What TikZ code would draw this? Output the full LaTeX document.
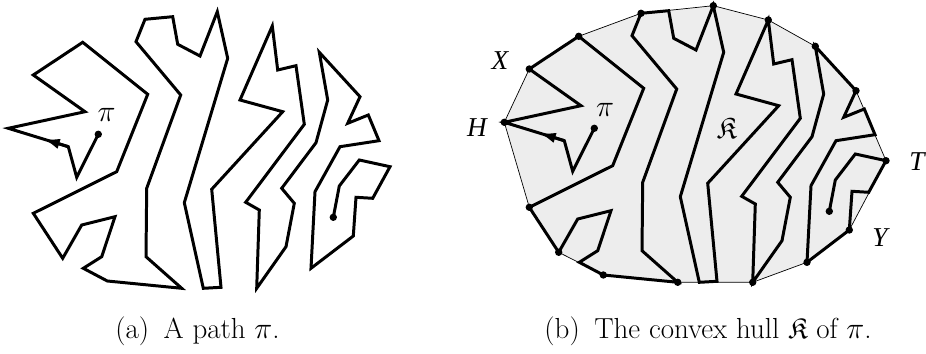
\documentclass[tikz,border=0pt]{standalone}
\usepackage{amssymb}
\usepackage{fontspec}
\newfontfamily\timesf{Liberation Serif}
\usetikzlibrary{arrows.meta,calc}
\def\pipath{(98.3,134.3) -- (76.7,177.3) -- (68.3,146.7) -- (8.3,128.3) -- (85,111.7) -- (33.3,75) -- (82.7,42.3) -- (147.7,94.3) -- (116.7,171.7) -- (33.3,213.3) -- (62.7,258.3) -- (81.7,225) -- (115,216.7) -- (101.7,256.7) -- (83.3,268.3) -- (107.3,281) -- (181.7,288.3) -- (146,256.7) -- (146.7,188.3) -- (180.7,95) -- (136,41.7) -- (145,19.3) -- (172.7,16.7) -- (177.7,44.3) -- (200,56) -- (217.3,11.7) -- (227.7,58.3) -- (184.3,202.7) -- (203.3,288.3) -- (221,287.3) -- (211.7,189.3) -- (282.7,111.7) -- (240,100) -- (272.3,26) -- (277.7,70) -- (296,65.7) -- (304.3,124.3) -- (245.7,202.3) -- (259.3,210) -- (256.7,288.3) -- (286,246.7) -- (294.3,203.3) -- (281.7,188.3) -- (316,142.7) -- (327.7,100) -- (319.3,52.3) -- (360,96.7) -- (347.7,123.3) -- (368.3,115) -- (379,140.7) -- (340,146.7) -- (315,191.7) -- (311,268.3) -- (353.3,236) -- (356,197.3) -- (372.7,198.3) -- (390,166.7) -- (359.3,160) -- (339.3,186) -- (333.3,217.3)}
\def\hullpath{(8.3,128.3) -- (33.3,75) -- (82.7,42.3) -- (145,19.3) -- (217.3,11.7) -- (272.3,26) -- (319.3,52.3) -- (360,96.7) -- (390,166.7) -- (353.3,236) -- (311,268.3) -- (256.7,288.3) -- (181.7,288.3) -- (107.3,281) -- (62.7,258.3) -- (33.3,213.3) -- cycle}
\tikzset{
  pipathstyle/.style={line width=1.7pt, line join=miter, miter limit=4},
  hullstyle/.style={fill=black!7, draw=black, line width=0.4pt},
  arrowseg/.style={line width=1.7pt, -{Latex[length=9.5pt,width=6pt]}},
  vdot/.style={circle, fill=black, inner sep=0pt, minimum size=4.2pt},
  lbl/.style={font=\fontsize{15.5}{18}\selectfont\timesf\itshape},
  mlbl/.style={font=\fontsize{16}{19}\selectfont},
  caption/.style={font=\fontsize{16.5}{19}\selectfont, anchor=base}
}
\begin{document}
\begin{tikzpicture}[x=0.02cm, y=-0.02cm]
\useasboundingbox (0,0) rectangle (926,354);
% (a)
\begin{scope}
  \draw[pipathstyle] \pipath;
  \coordinate (a1) at (68.3,146.7);
  \coordinate (a2) at (8.3,128.3);
  \draw[arrowseg] (a1) -- ($(a1)!0.42!(a2)$);
  \node[vdot] (as) at (98.3,134.3) {};
  \node[vdot] (ae) at (333.3,217.3) {};
  \node[mlbl] (api) at (106.7,115) {$\pi$};
\end{scope}
% (b)
\begin{scope}[shift={(496,-6)}]
  \draw[hullstyle] \hullpath;
  \draw[pipathstyle] \pipath;
  \coordinate (b1) at (68.3,146.7);
  \coordinate (b2) at (8.3,128.3);
  \draw[arrowseg] (b1) -- ($(b1)!0.42!(b2)$);
  \node[vdot] (bs) at (98.3,134.3) {};
  \node[vdot] (be) at (333.3,217.3) {};
  \foreach \p [count=\i] in {(8.3,128.3),(33.3,75),(82.7,42.3),(145,19.3),(217.3,11.7),(272.3,26),(319.3,52.3),(360,96.7),(390,166.7),(353.3,236),(311,268.3),(256.7,288.3),(181.7,288.3),(107.3,281),(62.7,258.3),(33.3,213.3)}
    \node[vdot] (h\i) at \p {};
  \node[mlbl] (bpi) at (109,116) {$\pi$};
  \node[mlbl, font=\fontsize{17}{20}\selectfont] (bK) at (230.7,134.3) {$\mathfrak{K}$};
\end{scope}
\node[lbl] (X) at (500,61) {X};
\node[lbl] (H) at (477,128) {H};
\node[lbl] (T) at (917,162) {T};
\node[lbl] (Y) at (880,238) {Y};
\node[caption] (capa) at (197.5,338) {(a)\enspace A path $\pi$.};
\node[caption] (capb) at (708,338) {(b)\enspace The convex hull $\mathfrak{K}$ of $\pi$.};
\end{tikzpicture}
\end{document}
